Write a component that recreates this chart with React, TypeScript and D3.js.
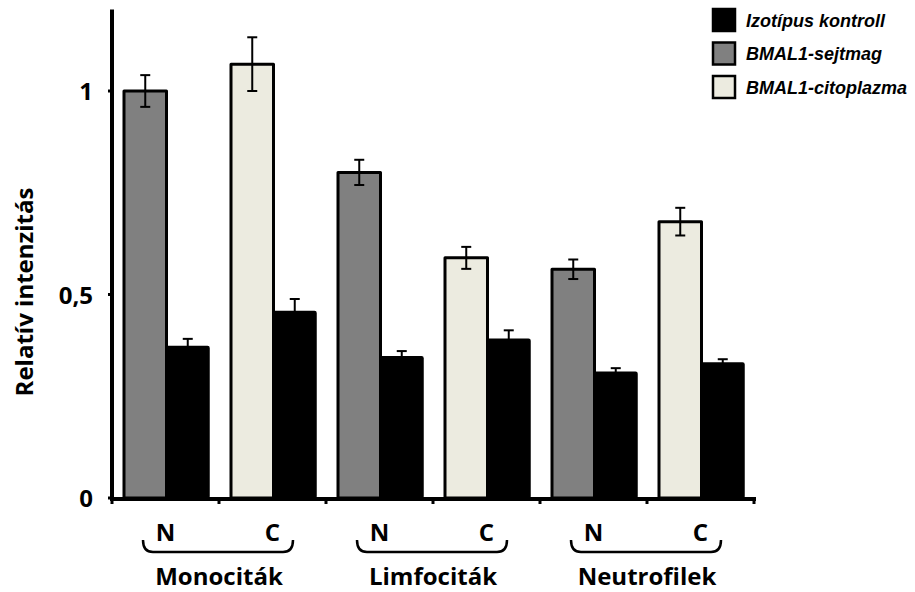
import React from "react";
import * as d3 from "d3";

// Cell types and the two compartments measured in each
const cellTypes = ["Monociták", "Limfociták", "Neutrofilek"];
const compartments = ["N", "C"];

// BMAL1 signal per compartment (N = sejtmag, C = citoplazma), mean and error
const bmalMean = [
  [1.0, 1.066],
  [0.8, 0.59],
  [0.562, 0.679],
];
const bmalErr = [
  [0.039, 0.066],
  [0.031, 0.027],
  [0.024, 0.034],
];

// Isotype control for each compartment
const isoMean = [
  [0.372, 0.458],
  [0.347, 0.39],
  [0.309, 0.332],
];
const isoErr = [
  [0.019, 0.031],
  [0.014, 0.022],
  [0.01, 0.009],
];

const yTicks = [0, 0.5, 1];
const yTickLabels = ["0", "0,5", "1"];

const legendItems = [
  { label: "Izotípus kontroll", fill: "#000000" },
  { label: "BMAL1-sejtmag", fill: "#808080" },
  { label: "BMAL1-citoplazma", fill: "#ECEBE0" },
];

const W = 915;
const H = 592;
const LABEL_FONT = "'Open Sans', 'DejaVu Sans', sans-serif";
const LEGEND_FONT = "'Liberation Sans', Arial, sans-serif";

export default function App() {
  const x0 = 112;
  const x1 = 754;
  const y = d3.scaleLinear().domain([0, 1.2]).range([498, 9.6]);
  const groupX = d3.scaleBand<string>().domain(cellTypes).range([x0, x1]);
  const subX = d3
    .scaleBand<string>()
    .domain(compartments)
    .range([0, groupX.bandwidth()]);

  const barW = 42.5;
  const barOffset = 12;
  const capW = 10;

  const tickXs: number[] = [];
  cellTypes.forEach((g) => {
    compartments.forEach((c) => tickXs.push(groupX(g)! + subX(c)!));
  });
  tickXs.push(x1);

  const errorBar = (cx: number, m: number, e: number, key: string) => (
    <g key={key} stroke="#000" strokeWidth={2}>
      <line x1={cx} x2={cx} y1={y(m + e)} y2={y(m - e)} />
      <line x1={cx - capW / 2} x2={cx + capW / 2} y1={y(m + e)} y2={y(m + e)} />
      <line x1={cx - capW / 2} x2={cx + capW / 2} y1={y(m - e)} y2={y(m - e)} />
    </g>
  );

  return (
    <svg
      width={W}
      height={H}
      style={{ position: "absolute", left: 0, top: 0, background: "#fff" }}
    >
      {/* bars */}
      {cellTypes.map((g, gi) =>
        compartments.map((c, ci) => {
          const bx = groupX(g)! + subX(c)! + barOffset;
          const m = bmalMean[gi][ci];
          const im = isoMean[gi][ci];
          const fill = ci === 0 ? legendItems[1].fill : legendItems[2].fill;
          return (
            <g key={g + c}>
              <rect
                x={bx}
                y={y(m)}
                width={barW}
                height={y(0) - y(m)}
                fill={fill}
                stroke="#000"
                strokeWidth={3}
                strokeLinejoin="round"
              />
              <rect
                x={bx + barW}
                y={y(im)}
                width={barW}
                height={y(0) - y(im)}
                fill="#000"
                stroke="#000"
                strokeWidth={1.5}
                rx={1.5}
              />
              {errorBar(bx + barW / 2, m, bmalErr[gi][ci], "eb")}
              {errorBar(bx + barW * 1.5, im, isoErr[gi][ci], "ei")}
            </g>
          );
        })
      )}

      {/* y axis */}
      <line x1={x0} x2={x0} y1={y(1.2)} y2={y(0) + 3} stroke="#000" strokeWidth={4} />
      {yTicks.map((t, i) => (
        <g key={t}>
          <line x1={x0 - 4} x2={x0} y1={y(t)} y2={y(t)} stroke="#000" strokeWidth={3} />
          <text
            x={93}
            y={y(t) + 9}
            textAnchor="end"
            fontFamily={LABEL_FONT}
            fontWeight="bold"
            fontSize={24}
          >
            {yTickLabels[i]}
          </text>
        </g>
      ))}
      <text
        transform={`translate(33,292) rotate(-90)`}
        textAnchor="middle"
        fontFamily={LABEL_FONT}
        fontWeight="bold"
        fontSize={24}
      >
        Relatív intenzitás
      </text>

      {/* x axis */}
      <line x1={x0 - 2} x2={x1 + 2} y1={y(0) + 1} y2={y(0) + 1} stroke="#000" strokeWidth={4} />
      {tickXs.map((tx, i) => (
        <line key={i} x1={tx} x2={tx} y1={y(0)} y2={y(0) + 6} stroke="#000" strokeWidth={3} />
      ))}

      {/* compartment labels, braces and cell type names */}
      {cellTypes.map((g) => {
        const gx = groupX(g)!;
        const gw = groupX.bandwidth();
        const bl = gx + 31;
        const br = gx + gw - 33;
        return (
          <g key={g}>
            {compartments.map((c) => (
              <text
                key={c}
                x={gx + subX(c)! + subX.bandwidth() / 2}
                y={541}
                textAnchor="middle"
                fontFamily={LABEL_FONT}
                fontWeight="bold"
                fontSize={24}
              >
                {c}
              </text>
            ))}
            <path
              d={`M${bl},540 Q${bl},552 ${bl + 10},552 L${br - 10},552 Q${br},552 ${br},540`}
              fill="none"
              stroke="#000"
              strokeWidth={2.5}
            />
            <text
              x={gx + gw / 2}
              y={585}
              textAnchor="middle"
              fontFamily={LABEL_FONT}
              fontWeight="bold"
              fontSize={24}
            >
              {g}
            </text>
          </g>
        );
      })}

      {/* legend */}
      {legendItems.map((it, i) => (
        <g key={it.label} transform={`translate(712,${8 + i * 33.5})`}>
          <rect x={1} y={1} width={22} height={22} fill={it.fill} stroke="#000" strokeWidth={2.5} />
          <text
            x={34}
            y={18.5}
            fontFamily={LEGEND_FONT}
            fontWeight="bold"
            fontStyle="italic"
            fontSize={18}
          >
            {it.label}
          </text>
        </g>
      ))}
    </svg>
  );
}
